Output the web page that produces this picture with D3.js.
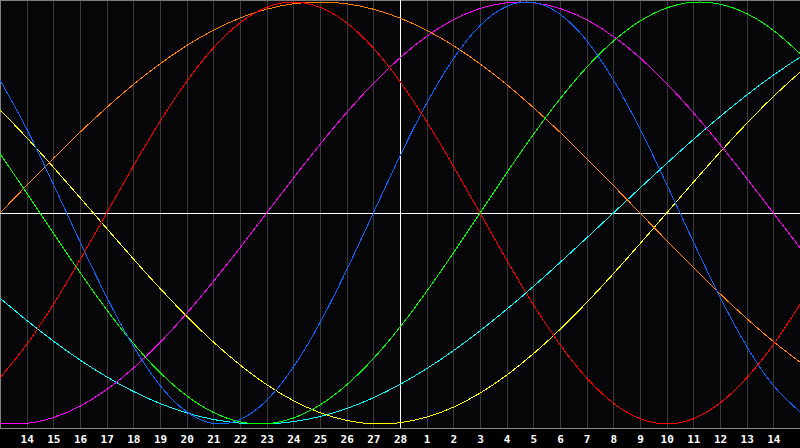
<!DOCTYPE html>
<html>
<head>
<meta charset="utf-8">
<script src="https://cdn.jsdelivr.net/npm/d3@7"></script>
<style>
  html, body { margin: 0; padding: 0; background: #000; }
  svg { display: block; }
</style>
</head>
<body>
<div class="graph"></div>
<script>
// one value per day, 31 days shown (13th .. 15th)
const dayLabels = [13, 14, 15, 16, 17, 18, 19, 20, 21, 22, 23, 24, 25, 26, 27, 28,
                   1, 2, 3, 4, 5, 6, 7, 8, 9, 10, 11, 12, 13, 14, 15]

const physical = [0.6311, 0.3984, 0.1362, -0.1362, -0.3984, -0.6311, -0.8170, -0.9423, -0.9977, -0.9791,
  -0.8879, -0.7308, -0.5196, -0.2698, 0, 0.2698, 0.5196, 0.7308, 0.8879, 0.9791,
  0.9977, 0.9423, 0.8170, 0.6311, 0.3984, 0.1362, -0.1362, -0.3984, -0.6311, -0.8170, -0.9423]

const emotional = [-0.7818, -0.6235, -0.4339, -0.2225, 0, 0.2225, 0.4339, 0.6235, 0.7818, 0.9010,
  0.9749, 1, 0.9749, 0.9010, 0.7818, 0.6235, 0.4339, 0.2225, 0, -0.2225,
  -0.4339, -0.6235, -0.7818, -0.9010, -0.9749, -1, -0.9749, -0.9010, -0.7818, -0.6235, -0.4339]

const intellectual = [0.2817, 0.0951, -0.0951, -0.2817, -0.4582, -0.6182, -0.7557, -0.8660, -0.9450, -0.9898,
  -0.9989, -0.9718, -0.9096, -0.8146, -0.6901, -0.5406, -0.3717, -0.1893, 0, 0.1893,
  0.3717, 0.5406, 0.6901, 0.8146, 0.9096, 0.9718, 0.9989, 0.9898, 0.9450, 0.8660, 0.7557]

const intuition = [-0.9966, -0.9966, -0.9694, -0.9158, -0.8372, -0.7357, -0.6142, -0.4759, -0.3247, -0.1646,
  0, 0.1646, 0.3247, 0.4759, 0.6142, 0.7357, 0.8372, 0.9158, 0.9694, 0.9966,
  0.9966, 0.9694, 0.9158, 0.8372, 0.7357, 0.6142, 0.4759, 0.3247, 0.1646, 0, -0.1646]

const aesthetic = [0.4894, 0.3572, 0.2174, 0.0730, -0.0730, -0.2174, -0.3572, -0.4894, -0.6112, -0.7199,
  -0.8133, -0.8894, -0.9465, -0.9834, -0.9993, -0.9940, -0.9675, -0.9203, -0.8536, -0.7686,
  -0.6673, -0.5517, -0.4244, -0.2881, -0.1456, 0, 0.1456, 0.2881, 0.4244, 0.5517, 0.6673]

const awareness = [0, 0.1305, 0.2588, 0.3827, 0.5, 0.6088, 0.7071, 0.7934, 0.8660, 0.9239,
  0.9659, 0.9914, 1, 0.9914, 0.9659, 0.9239, 0.8660, 0.7934, 0.7071, 0.6088,
  0.5, 0.3827, 0.2588, 0.1305, 0, -0.1305, -0.2588, -0.3827, -0.5, -0.6088, -0.7071]

const spiritual = [-0.4031, -0.5085, -0.6068, -0.6966, -0.7765, -0.8456, -0.9028, -0.9473, -0.9786, -0.9960,
  -0.9996, -0.9890, -0.9646, -0.9267, -0.8757, -0.8125, -0.7379, -0.6529, -0.5586, -0.4566,
  -0.3482, -0.2349, -0.1183, 0, 0.1183, 0.2349, 0.3482, 0.4566, 0.5586, 0.6529, 0.7379]

const seriesNames = ["spiritual", "aesthetic", "intuition", "awareness", "intellectual", "physical", "emotional"]
const seriesValues = [spiritual, aesthetic, intuition, awareness, intellectual, physical, emotional]
const seriesColors = ["#00ffff", "#ffff00", "#ff00ff", "#ff8000", "#00ff00", "#0a64ff", "#ff0000"]

const todayIndex = 15

const width = 800,
      height = 448,
      plotBottom = 428

const svg = d3.select(".graph").append("svg")
    .attr("width", width)
    .attr("height", height)

svg.append("rect")
    .attr("width", width)
    .attr("height", height)
    .style("fill", "#000")

svg.append("rect")
    .attr("width", width)
    .attr("height", plotBottom)
    .style("fill", "#060609")

const scaleX = d3.scaleLinear()
    .domain([0, dayLabels.length - 1])
    .range([0, width])

const scaleY = d3.scaleLinear()
    .domain([-1, 1])
    .range([424, 2])

// day grid
svg.append("g")
    .selectAll("line")
    .data(d3.range(1, dayLabels.length - 1))
    .join("line")
    .attr("x1", d => Math.round(scaleX(d)) + 0.5)
    .attr("x2", d => Math.round(scaleX(d)) + 0.5)
    .attr("y1", 0)
    .attr("y2", plotBottom)
    .style("stroke", "#3a3a3a")
    .style("stroke-width", 1)

// frame
svg.append("line")
    .attr("x1", 0.5).attr("x2", 0.5)
    .attr("y1", 0).attr("y2", plotBottom)
    .style("stroke", "#808080")
svg.append("line")
    .attr("x1", 0).attr("x2", width)
    .attr("y1", 0.5).attr("y2", 0.5)
    .style("stroke", "#808080")
svg.append("line")
    .attr("x1", 0).attr("x2", width)
    .attr("y1", plotBottom + 0.5).attr("y2", plotBottom + 0.5)
    .style("stroke", "#8a8a8a")

// today + zero line
svg.append("line")
    .attr("x1", Math.round(scaleX(todayIndex)) + 0.5)
    .attr("x2", Math.round(scaleX(todayIndex)) + 0.5)
    .attr("y1", 0)
    .attr("y2", plotBottom)
    .style("stroke", "#fff")
svg.append("line")
    .attr("x1", 0)
    .attr("x2", width)
    .attr("y1", Math.round(scaleY(0)) + 0.5)
    .attr("y2", Math.round(scaleY(0)) + 0.5)
    .style("stroke", "#fff")

const line = d3.line()
    .x((d, i) => scaleX(i))
    .y(d => scaleY(d))
    .curve(d3.curveNatural)

svg.append("g")
    .selectAll("path")
    .data(seriesValues)
    .join("path")
    .attr("d", d => line(d))
    .attr("class", (d, i) => seriesNames[i])
    .style("fill", "none")
    .style("stroke", (d, i) => seriesColors[i])
    .style("stroke-width", 1)
    .style("shape-rendering", "crispEdges")

const xAxis = g => g
    .attr("transform", `translate(0, ${plotBottom})`)
    .call(d3.axisBottom(scaleX)
        .tickValues(d3.range(1, dayLabels.length - 1))
        .tickFormat(i => dayLabels[i])
        .tickSize(0)
        .tickPadding(7))
    .call(g => g.select(".domain").remove())

svg.append("g")
    .call(xAxis)
    .style("font", "bold 11px 'DejaVu Sans Mono'")
    .selectAll("text")
    .style("fill", "#fff")
</script>
</body>
</html>
